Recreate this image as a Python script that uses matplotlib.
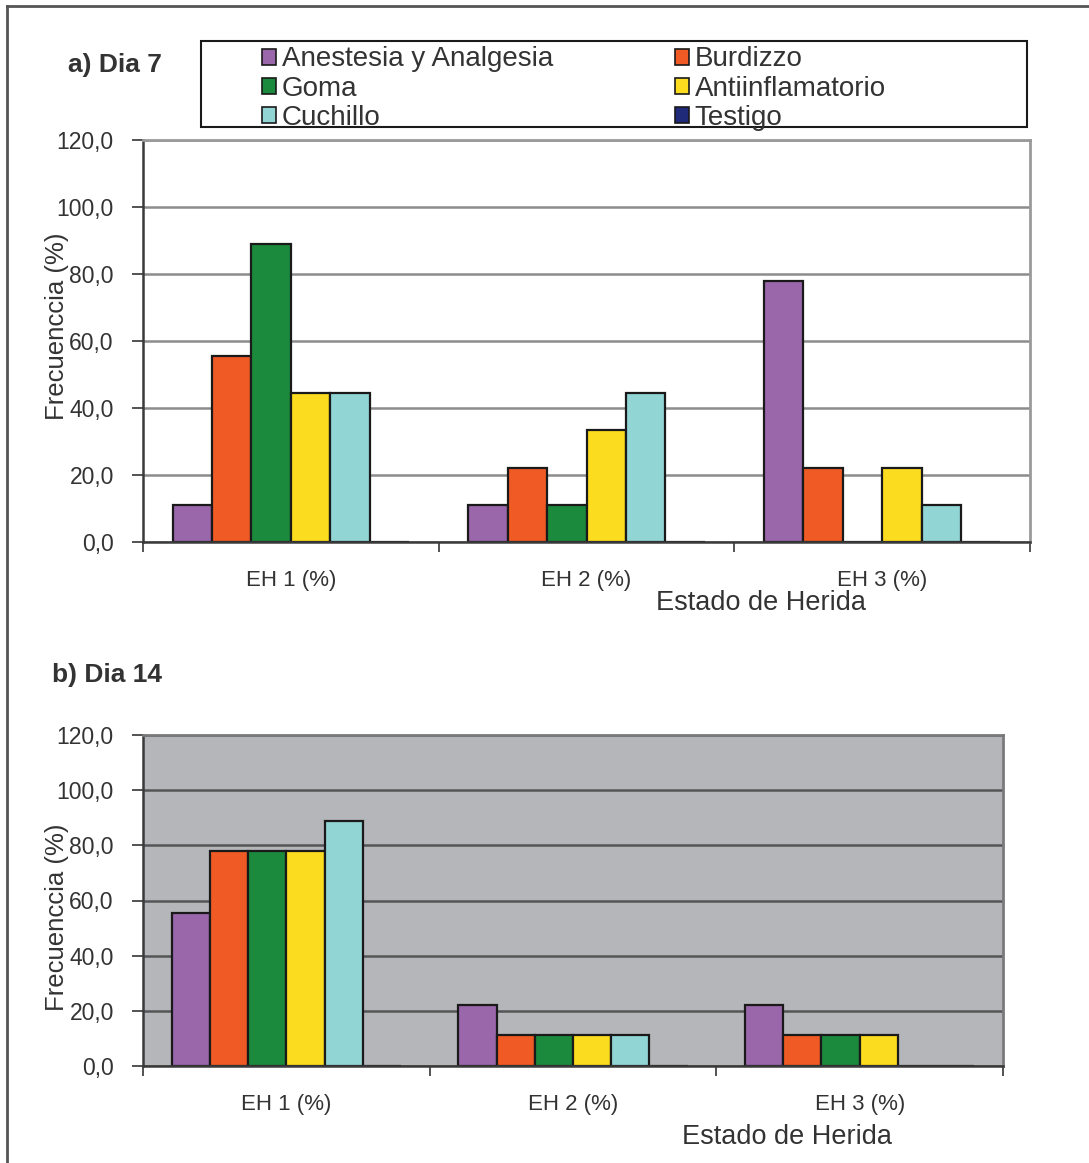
import numpy as np
import matplotlib
matplotlib.use("Agg")
from matplotlib import pyplot as plt
from matplotlib.patches import Rectangle, Patch
from matplotlib.lines import Line2D
from matplotlib.ticker import FuncFormatter

plt.rcParams['font.family'] = ['Liberation Sans', 'DejaVu Sans']

# Wound state groups and treatments
estados = ['EH 1 (%)', 'EH 2 (%)', 'EH 3 (%)']
tratamientos = ['Anestesia y Analgesia', 'Burdizzo', 'Goma',
                'Antiinflamatorio', 'Cuchillo', 'Testigo']
colores = ['#9a67ab', '#f05a24', '#1b8a3c', '#fcdc1e', '#92d5d5', '#1f2a78']

# Frequency (%) per treatment, one value per wound state - day 7
dia7_anestesia = [11.1, 11.1, 77.8]
dia7_burdizzo = [55.6, 22.2, 22.2]
dia7_goma = [88.9, 11.1, 0.0]
dia7_antiinfl = [44.4, 33.3, 22.2]
dia7_cuchillo = [44.4, 44.4, 11.1]
dia7_testigo = [0.0, 0.0, 0.0]

# day 14
dia14_anestesia = [55.6, 22.2, 22.2]
dia14_burdizzo = [77.8, 11.1, 11.1]
dia14_goma = [77.8, 11.1, 11.1]
dia14_antiinfl = [77.8, 11.1, 11.1]
dia14_cuchillo = [88.9, 11.1, 0.0]
dia14_testigo = [0.0, 0.0, 0.0]

dia7 = [dia7_anestesia, dia7_burdizzo, dia7_goma, dia7_antiinfl, dia7_cuchillo, dia7_testigo]
dia14 = [dia14_anestesia, dia14_burdizzo, dia14_goma, dia14_antiinfl, dia14_cuchillo, dia14_testigo]

W, H = 1089, 1163
fig = plt.figure(figsize=(W / 100, H / 100), dpi=100)


def px_axes(left, top, right, bottom):
    return fig.add_axes([left / W, 1 - bottom / H, (right - left) / W, (bottom - top) / H])


def draw_panel(ax, series, bg, gridcolor, framecolor):
    x = np.arange(len(estados))
    n = len(series)
    w = 1 / (n + 1.5)
    for i, (vals, c) in enumerate(zip(series, colores)):
        ax.bar(x + (i - (n - 1) / 2) * w, vals, width=w, color=c,
               edgecolor='#1a1a1a', linewidth=1.6, zorder=3)
    ax.set_facecolor(bg)
    ax.set_xlim(-0.5, 2.5)
    ax.set_ylim(0, 120)
    ax.set_yticks(np.arange(0, 121, 20))
    ax.yaxis.set_major_formatter(FuncFormatter(lambda v, p: f'{v:.1f}'.replace('.', ',')))
    ax.yaxis.grid(True, color=gridcolor, linewidth=1.8, zorder=1)
    ax.set_axisbelow(True)
    ax.set_xticks(x)
    ax.set_xticklabels(estados)
    ax.set_xticks([-0.5, 0.5, 1.5, 2.5], minor=True)
    ax.tick_params(axis='x', which='major', length=0, pad=20, labelsize=16, labelcolor='#333333')
    ax.tick_params(axis='x', which='minor', length=7, width=1.3, color='#444444')
    ax.tick_params(axis='y', length=8, width=1.3, color='#444444', labelsize=16.5,
                   labelcolor='#333333', pad=13)
    for s in ['left', 'bottom']:
        ax.spines[s].set_color('#3a3a3a')
        ax.spines[s].set_linewidth(1.8)
    for s in ['top', 'right']:
        ax.spines[s].set_color(framecolor)
        ax.spines[s].set_linewidth(2)
    ax.spines['bottom'].set_zorder(4)


# a) Day 7
ax1 = px_axes(143, 140, 1030, 542)
draw_panel(ax1, dia7, 'white', '#8c8c8c', '#9a9a9a')
fig.text(68 / W, 1 - 65 / H, 'a) Dia 7', fontsize=19, fontweight='bold',
         color='#333333', ha='left', va='center')
fig.text(57 / W, 1 - 326 / H, 'Frecuenccia (%)', rotation=90, fontsize=18.5,
         color='#333333', ha='center', va='center')
fig.text(761 / W, 1 - 603 / H, 'Estado de Herida', fontsize=19.5,
         color='#333333', ha='center', va='center')

# legend box with the six treatments, filled row by row
fig.add_artist(Rectangle((201 / W, 1 - 127 / H), (1027 - 201) / W, (127 - 41) / H,
                         transform=fig.transFigure, facecolor='white',
                         edgecolor='#1a1a1a', linewidth=1.5))
handles = [Patch(facecolor=c, edgecolor='#1a1a1a', linewidth=1.2) for c in colores]
orden = [0, 2, 4, 1, 3, 5]
fig.legend([handles[i] for i in orden], [tratamientos[i] for i in orden],
           ncol=2, frameon=False,
           loc='upper left', bbox_to_anchor=(243 / W, 1 - 27 / H),
           fontsize=20, handlelength=0.5, handleheight=0.5, handletextpad=0.2,
           labelspacing=0.12, columnspacing=4.4, borderpad=0.2,
           labelcolor='#333333')

# b) Day 14
ax2 = px_axes(143, 735, 1003, 1066)
draw_panel(ax2, dia14, '#b5b6ba', '#555555', '#7a7a7a')
fig.text(52 / W, 1 - 675 / H, 'b) Dia 14', fontsize=19, fontweight='bold',
         color='#333333', ha='left', va='center')
fig.text(57 / W, 1 - 917 / H, 'Frecuenccia (%)', rotation=90, fontsize=18.5,
         color='#333333', ha='center', va='center')
fig.text(787 / W, 1 - 1137 / H, 'Estado de Herida', fontsize=19.5,
         color='#333333', ha='center', va='center')

# outer frame (left and top edges)
fig.add_artist(Line2D([7 / W, 7 / W], [0, 1 - 6 / H], transform=fig.transFigure,
                      color='#555555', linewidth=2))
fig.add_artist(Line2D([7 / W, 1], [1 - 6 / H, 1 - 6 / H], transform=fig.transFigure,
                      color='#555555', linewidth=2))

fig.savefig('out.png', dpi=100)
